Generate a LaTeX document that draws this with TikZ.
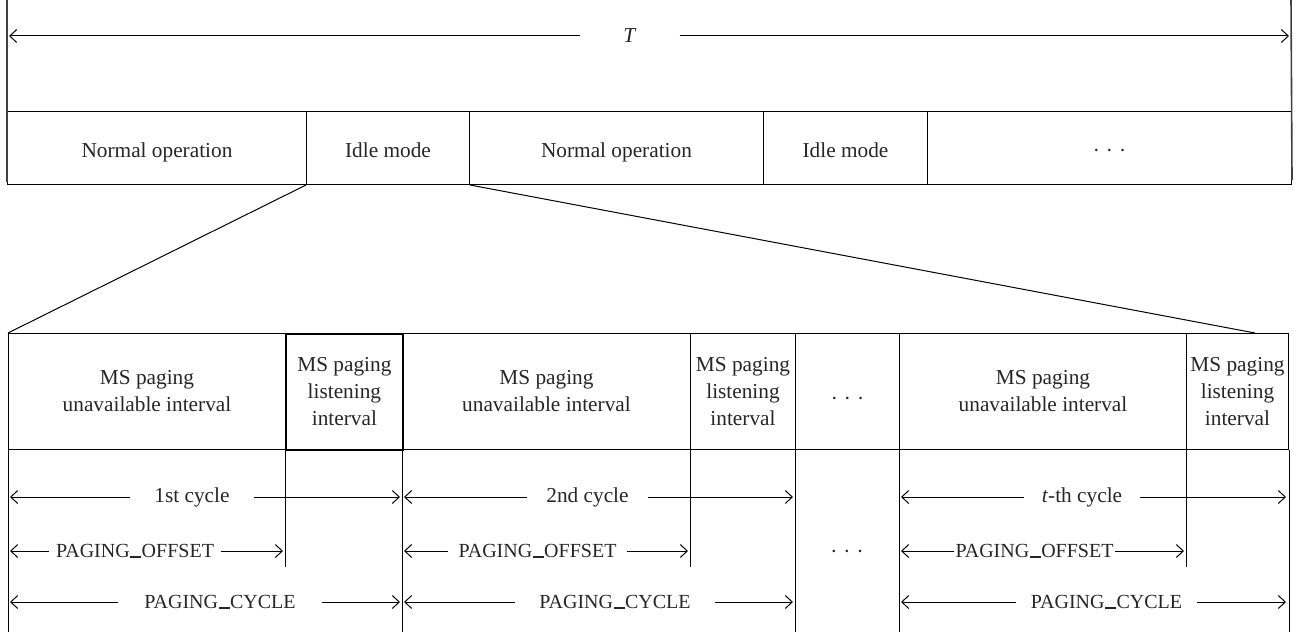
\documentclass[tikz,border=0pt]{standalone}
\usepackage{fontspec}
\setmainfont{Liberation Serif}
\usetikzlibrary{arrows.meta}
\newcommand\usbar{\kern0.5pt\rule[-0.3pt]{11pt}{1.3pt}\kern0.5pt}
\newcommand\threedots{\char"00B7\hspace{6pt}\char"00B7\hspace{6pt}\char"00B7}
\begin{document}
\begin{tikzpicture}[x=1pt,y=-1pt,
  every node/.style={font=\fontsize{21.3}{27}\selectfont, text=black!85},
  box/.style={draw, line width=1pt, anchor=north west, inner sep=0pt, align=center},
  one/.style={text height=19pt, text depth=0pt},
  lbl/.style={inner sep=0pt, minimum height=24pt, anchor=center},
  pg/.style={lbl, font=\fontsize{20}{24}\selectfont},
  tip/.style={-{Straight Barb[length=7pt,width=13pt]}, line width=1pt},
  edge/.style={line width=1pt},
  outer/.style={line width=1.6pt, black!75}]
\useasboundingbox (0,0) rectangle (1297,636);

% ---- top row ----
\node[box, one, minimum width=299pt, minimum height=73pt] (n1) at (7,111) {Normal operation};
\node[box, one, minimum width=163pt, minimum height=73pt] (i1) at (306,111) {Idle mode};
\node[box, one, minimum width=294pt, minimum height=73pt] (n2) at (469,111) {Normal operation};
\node[box, one, minimum width=164pt, minimum height=73pt] (i2) at (763,111) {Idle mode};
\node[box, one, minimum width=364pt, minimum height=73pt] (d) at (927,111) {\threedots};

\coordinate (tl) at (7,0);
\coordinate (tr) at (1291,0);
\draw[outer] (tl) -- ([yshift=3pt]n1.south west);
\draw[outer] (tr) -- ([yshift=5pt]d.south east);

% ---- T arrow ----
\node[lbl, minimum width=99pt] (T) at (630,36) {\textit{T}};
\coordinate (TL) at (9,36);
\coordinate (TR) at (1289,36);
\draw[tip] (T.west) -- (TL);
\draw[tip] (T.east) -- (TR);

% ---- lower table header ----
\node[box, minimum width=277pt, minimum height=116pt] (u1) at (8,333) {MS paging\\unavailable interval};
\node[box, line width=1.8pt, minimum width=117pt, minimum height=116pt] (l1) at (285,333) {MS paging\\listening\\interval};
\node[box, minimum width=288pt, minimum height=116pt] (u2) at (402,333) {MS paging\\unavailable interval};
\node[box, minimum width=105pt, minimum height=116pt] (l2) at (690,333) {MS paging\\listening\\interval};
\node[box, text height=28pt, text depth=0pt, minimum width=104pt, minimum height=116pt] (dm) at (795,333) {\threedots};
\node[box, minimum width=287pt, minimum height=116pt] (u3) at (899,333) {MS paging\\unavailable interval};
\node[box, minimum width=102pt, minimum height=116pt] (l3) at (1186,333) {MS paging\\listening\\interval};

% ---- fan lines ----
\coordinate (fanR) at (1255,333);
\draw[edge] (i1.south west) -- (u1.north west);
\draw[edge] (i1.south east) -- (fanR);

% ---- vertical extensions ----
\coordinate (bot) at (0,632);
\coordinate (mid) at (0,567);
\draw[edge] (u1.south west) -- (u1.south west |- bot);
\draw[edge] (u2.south west) -- (u2.south west |- bot);
\draw[edge] (dm.south west) -- (dm.south west |- bot);
\draw[edge] (u3.south west) -- (u3.south west |- bot);
\draw[edge] (l3.south east) -- (l3.south east |- bot);
\draw[edge] (l1.south west) -- (l1.south west |- mid);
\draw[edge] (l2.south west) -- (l2.south west |- mid);
\draw[edge] (l3.south west) -- (l3.south west |- mid);

% ---- cycle 1 ----
\node[lbl, minimum width=123pt] (c1) at (192,497) {1st cycle};
\coordinate (c1L) at (10,497); \coordinate (c1R) at (400,497);
\draw[tip] (c1.west) -- (c1L); \draw[tip] (c1.east) -- (c1R);
\node[pg, minimum width=172pt] (o1) at (135,551) {PAGING\usbar OFFSET};
\coordinate (o1L) at (10,551); \coordinate (o1R) at (283,551);
\draw[tip] (o1.west) -- (o1L); \draw[tip] (o1.east) -- (o1R);
\node[pg, minimum width=204pt] (p1) at (220,602) {PAGING\usbar CYCLE};
\coordinate (p1L) at (10,602); \coordinate (p1R) at (400,602);
\draw[tip] (p1.west) -- (p1L); \draw[tip] (p1.east) -- (p1R);

% ---- cycle 2 ----
\node[lbl, minimum width=121pt] (c2) at (587.5,497) {2nd cycle};
\coordinate (c2L) at (404,497); \coordinate (c2R) at (793,497);
\draw[tip] (c2.west) -- (c2L); \draw[tip] (c2.east) -- (c2R);
\node[pg, minimum width=179pt] (o2) at (537.5,551) {PAGING\usbar OFFSET};
\coordinate (o2L) at (404,551); \coordinate (o2R) at (688,551);
\draw[tip] (o2.west) -- (o2L); \draw[tip] (o2.east) -- (o2R);
\node[pg, minimum width=200pt] (p2) at (615,602) {PAGING\usbar CYCLE};
\coordinate (p2L) at (404,602); \coordinate (p2R) at (793,602);
\draw[tip] (p2.west) -- (p2L); \draw[tip] (p2.east) -- (p2R);

% ---- middle dots ----
\node[text height=14pt, text depth=0pt] (dd) at (847,551) {\threedots};

% ---- cycle t ----
\node[lbl, minimum width=116pt] (c3) at (1082,497) {\textit{t}-th cycle};
\coordinate (c3L) at (901,497); \coordinate (c3R) at (1286,497);
\draw[tip] (c3.west) -- (c3L); \draw[tip] (c3.east) -- (c3R);
\node[pg, minimum width=160pt] (o3) at (1034.5,551) {PAGING\usbar OFFSET};
\coordinate (o3L) at (901,551); \coordinate (o3R) at (1184,551);
\draw[tip] (o3.west) -- (o3L); \draw[tip] (o3.east) -- (o3R);
\node[pg, minimum width=181pt] (p3) at (1106.5,602) {PAGING\usbar CYCLE};
\coordinate (p3L) at (901,602); \coordinate (p3R) at (1286,602);
\draw[tip] (p3.west) -- (p3L); \draw[tip] (p3.east) -- (p3R);
\end{tikzpicture}
\end{document}
